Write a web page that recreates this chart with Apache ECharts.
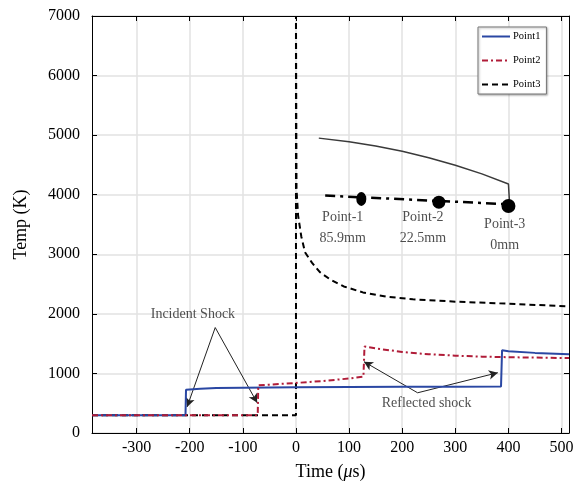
<!DOCTYPE html>
<html><head><meta charset="utf-8">
<script src="https://cdn.jsdelivr.net/npm/echarts@6/dist/echarts.min.js"></script>
<style>html,body{margin:0;padding:0;background:#fff}#c{width:581px;height:493px}</style>
</head><body><div id="c"></div>
<script>
const timeTicks = [-300,-200,-100,0,100,200,300,400,500];
const point1 = [[-384,300],[-208,300],[-207,725],[-180,742],[-150,755],[-100,760],[0,770],[100,772],[200,775],[300,778],[386,780],[388,1390],[400,1372],[450,1345],[514,1322]];
const point2 = [[-384,300],[-72,300],[-71,800],[-50,812],[0,840],[50,872],[100,915],[127,945],[129,1452],[150,1420],[200,1360],[250,1322],[300,1298],[350,1282],[400,1272],[514,1258]];
const point3 = [[-384,300],[0,300],[0,7000],[1,4100],[4,3650],[10,3300],[17,3035],[30,2860],[45,2700],[64,2580],[90,2460],[126,2360],[170,2290],[220,2245],[300,2205],[400,2170],[514,2125]];
const insetCurve = [[43,4950],[100,4890],[150,4818],[200,4728],[250,4622],[300,4495],[350,4350],[400,4180],[402,4180],[402,3870]];
const insetLine = [[55,3985],[400,3840]];
const insetDots = [[123,3930],[269,3875],[400,3810]];
const dotSizes = [[10,14],[13,13],[14,14]];
const pointLabels = [[88,3440,'Point-1\n85.9mm'],[239,3450,'Point-2\n22.5mm'],[393,3325,'Point-3\n0mm']];
const annoTexts = [[-194,1990,'Incident Shock'],[246,506,'Reflected shock']];
const arrows = [
  [[-152,1770],[-205,438]],
  [[-152,1770],[-73,506]],
  [[229,675],[128,1197]],
  [[229,675],[380,1012]]
];

const serif = '"Liberation Serif", "DejaVu Serif", serif';
const chart = echarts.init(document.getElementById('c'));
const line = {show:true,onZero:false,lineStyle:{color:'#000',width:1}};
const tick = {show:true,inside:true,length:5,lineStyle:{color:'#000'}};
chart.setOption({
  animation:false,
  backgroundColor:'#fff',
  grid:{left:92,right:12,top:16,bottom:60},
  legend:{
    data:['Point1','Point2','Point3'],
    orient:'vertical', left:478, top:27,
    padding:[4,6,4,3], itemGap:13, itemWidth:28, itemHeight:10,
    backgroundColor:'#fff', borderColor:'#777', borderWidth:1,
    shadowColor:'rgba(0,0,0,0.3)', shadowBlur:2, shadowOffsetX:1, shadowOffsetY:1,
    itemStyle:{opacity:0},
    textStyle:{fontFamily:serif,fontSize:10.5,color:'#000',padding:[0,0,0,-2]}
  },
  xAxis:[
    {
      type:'value', min:-384, max:514, position:'bottom',
      name:'{a|Time (}{b|μ}{a|s)}', nameLocation:'middle', nameGap:30,
      nameTextStyle:{fontFamily:serif,fontSize:18,color:'#000',
        rich:{a:{fontFamily:serif,fontSize:18,color:'#000'},b:{fontFamily:serif,fontSize:18,fontStyle:'italic',color:'#000'}}},
      axisLine:line,
      axisTick:Object.assign({customValues:timeTicks},tick),
      axisLabel:{customValues:timeTicks,fontFamily:serif,fontSize:16,color:'#000',margin:7},
      splitLine:{show:true,customValues:timeTicks,lineStyle:{color:'#e2e2e2',width:1.5}}
    },
    {
      type:'value', min:-384, max:514, position:'top',
      axisLine:line,
      axisTick:Object.assign({customValues:timeTicks},tick),
      axisLabel:{show:false}, splitLine:{show:false}
    }
  ],
  yAxis:[
    {
      type:'value', min:0, max:7000, interval:1000, position:'left',
      name:'Temp (K)', nameLocation:'middle', nameGap:62, nameRotate:90,
      nameTextStyle:{fontFamily:serif,fontSize:18,color:'#000'},
      axisLine:line, axisTick:tick,
      axisLabel:{fontFamily:serif,fontSize:16,color:'#000',margin:12,formatter:v=>String(v)},
      splitLine:{show:true,lineStyle:{color:'#e2e2e2',width:1.5}}
    },
    {
      type:'value', min:0, max:7000, interval:1000, position:'right',
      axisLine:line, axisTick:tick,
      axisLabel:{show:false}, splitLine:{show:false}
    }
  ],
  series:[
    {name:'Point1',type:'line',data:point1,symbol:'none',z:5,
     lineStyle:{color:'#2a47a3',width:2},itemStyle:{color:'#2a47a3'}},
    {name:'Point2',type:'line',data:point2,symbol:'none',z:5,
     lineStyle:{color:'#b01c38',width:2,type:[6,3,2,3]},itemStyle:{color:'#b01c38'}},
    {name:'Point3',type:'line',data:point3,symbol:'none',z:4,
     lineStyle:{color:'#000',width:2,type:[6,4]},itemStyle:{color:'#000'}},
    {name:'insetCurve',type:'line',data:insetCurve,symbol:'none',z:3,
     lineStyle:{color:'#3a3a3a',width:1.5},
     markLine:{silent:true,symbol:['none','arrow'],symbolSize:[7,9],
       label:{show:false},lineStyle:{color:'#222',width:1,type:'solid'},
       data:arrows.map(a=>[{coord:a[0]},{coord:a[1]}])}},
    {name:'insetLine',type:'line',data:insetLine,symbol:'none',z:3,
     lineStyle:{color:'#000',width:2.5,type:[10,5,3,5]}},
    {name:'insetDots',type:'scatter',z:6,
     data:insetDots.map((d,i)=>({value:d,symbolSize:dotSizes[i]})),
     itemStyle:{color:'#000',opacity:1}},
    {name:'pointLabels',type:'scatter',symbolSize:0,z:6,
     data:pointLabels,
     label:{show:true,position:'inside',formatter:p=>p.value[2],
       fontFamily:serif,fontSize:14,lineHeight:21,color:'#222',align:'center'}},
    {name:'annoTexts',type:'scatter',symbolSize:0,z:6,
     data:annoTexts,
     label:{show:true,position:'inside',formatter:p=>p.value[2],
       fontFamily:serif,fontSize:14,color:'#222',align:'center'}}
  ]
});
</script></body></html>
